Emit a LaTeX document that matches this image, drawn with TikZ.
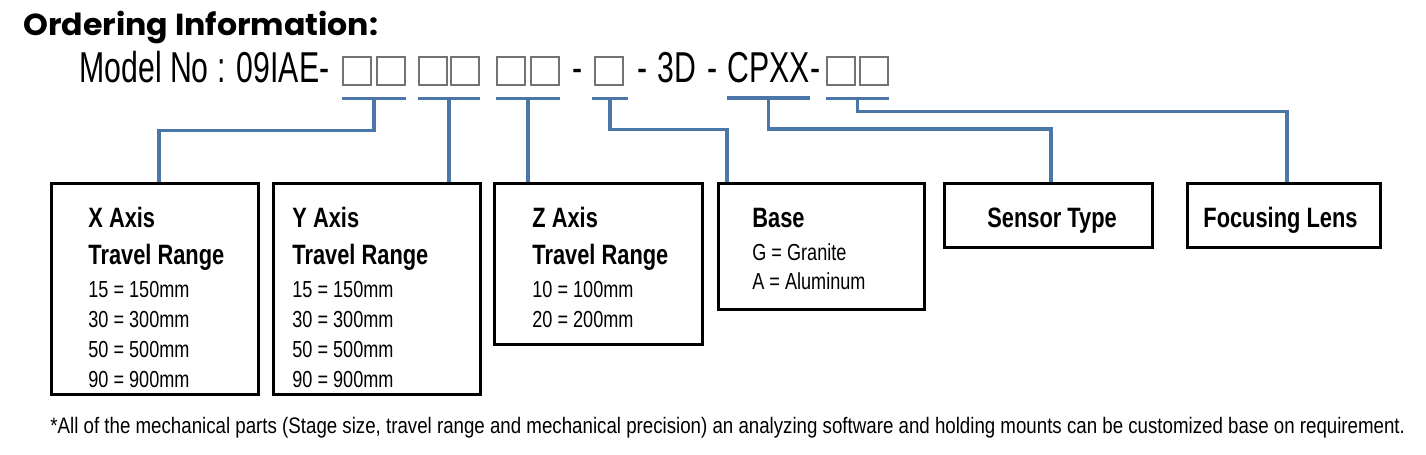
\documentclass[tikz,border=0pt]{standalone}
\usepackage{fontspec}
\usepackage{tikz}
\setmainfont{Liberation Sans}
\newfontfamily\titlefont[FakeStretch=1.04]{Poppins}
\newfontfamily\narrowfont[FakeStretch=0.78]{Liberation Sans}
\newfontfamily\modelfont[FakeStretch=0.7]{Liberation Sans}
\newfontfamily\notefont[FakeStretch=0.835]{Liberation Sans}
\definecolor{linkblue}{RGB}{74,118,168}

\begin{document}
\begin{tikzpicture}[x=0.5pt,y=-0.5pt,
    txt/.style={inner sep=0,anchor=base west},
    big/.style={txt,font=\modelfont\fontsize{21.6}{24}\selectfont},
    slot/.style={draw=black!55,line width=0.6pt,minimum size=14pt,inner sep=0},
    box/.style={draw,line width=1.35pt,inner sep=0,anchor=north west},
    link/.style={draw=linkblue,line width=1.6pt},
    head/.style={txt,font=\narrowfont\bfseries\fontsize{14}{16}\selectfont},
    item/.style={txt,font=\narrowfont\fontsize{11.6}{14}\selectfont}]
  \useasboundingbox (0,0) rectangle (1426,455);
  \node[txt,font=\titlefont\bfseries\fontsize{15.2}{18}\selectfont] (title) at (23,35) {Ordering Information:};
  % model number
  \node[big] (model) at (79,83) {Model No : 09IAE-};
  \node[big] (dash1) at (572,83) {-};
  \node[big] (dash2) at (637,83) {-};
  \node[big] (three) at (657,83) {3D};
  \node[big] (dash3) at (707,83) {-};
  \node[big] (cpxx) at (727,83) {CPXX};
  \node[big] (dash4) at (cpxx.base east) {-};
  \foreach \n/\x in {a/357,b/391,c/433,d/465,e/511,f/545,g/609,h/841,i/874}
    \node[slot] (s\n) at (\x,71) {};
  % underlines
  \draw[link] ([yshift=-6.5pt]sa.south west) -- coordinate (ua) ([yshift=-6.5pt]sb.south east);
  \draw[link] ([yshift=-6.5pt]sc.south west) -- coordinate (ub) ([yshift=-6.5pt]sd.south east);
  \draw[link] ([yshift=-6.5pt]se.south west) -- coordinate (uc) ([yshift=-6.5pt]sf.south east);
  \draw[link] ([xshift=-1pt,yshift=-6.5pt]sg.south west) -- coordinate (ud) ([xshift=2pt,yshift=-6.5pt]sg.south east);
  \draw[link] ([yshift=-7.5pt]cpxx.base west) -- coordinate (ue) ([yshift=-7.5pt]cpxx.base east);
  \draw[link] ([yshift=-6.5pt]sh.south west) -- coordinate (uf) ([yshift=-6.5pt]si.south east);
  % boxes
  \node[box,minimum width=103.5pt,minimum height=105.5pt] (xbox) at (50,182) {};
  \node[box,minimum width=103.5pt,minimum height=105.5pt] (ybox) at (272,182) {};
  \node[box,minimum width=104pt,minimum height=80.5pt] (zbox) at (493,182) {};
  \node[box,minimum width=103pt,minimum height=63pt] (basebox) at (717,182) {};
  \node[box,minimum width=104pt,minimum height=32pt] (sensor) at (943,182) {};
  \node[box,minimum width=96.5pt,minimum height=32pt] (lens) at (1186,182) {};
  % connectors
  \draw[link] (ua) -- ++(0,32) -| ([xshift=54.5pt]xbox.north west);
  \draw[link] (ub) -- (ub |- ybox.north);
  \draw[link] (uc) -- (uc |- zbox.north);
  \draw[link] (ud) -- ++(0,31) -| ([xshift=5pt]basebox.north west);
  \draw[link] (ue) -- ++(0,31) -| ([xshift=54pt]sensor.north west);
  \draw[link] (uf) -- ++(0,13) -| ([xshift=50.5pt]lens.north west);
  % box texts
  \node[head] (xhead) at (88,227) {X Axis};
  \node[head] (xrange) at (88,264) {Travel Range};
  \foreach \v [count=\i] in {15 = 150mm,30 = 300mm,50 = 500mm,90 = 900mm}
    \node[item] (xitem\i) at (88,267+30*\i) {\v};
  \node[head] (yhead) at (292,227) {Y Axis};
  \node[head] (yrange) at (292,264) {Travel Range};
  \foreach \v [count=\i] in {15 = 150mm,30 = 300mm,50 = 500mm,90 = 900mm}
    \node[item] (yitem\i) at (292,267+30*\i) {\v};
  \node[head] (zhead) at (532,227) {Z Axis};
  \node[head] (zrange) at (532,264) {Travel Range};
  \foreach \v [count=\i] in {10 = 100mm,20 = 200mm}
    \node[item] (zitem\i) at (532,267+30*\i) {\v};
  \node[head] (basehead) at (752,227) {Base};
  \foreach \v [count=\i] in {G = Granite,A = Aluminum}
    \node[item] (baseitem\i) at (752,231+29*\i) {\v};
  \node[head] (sensorhead) at (987,227) {Sensor Type};
  \node[head] (lenshead) at (1203,227) {Focusing Lens};
  % note
  \node[txt,font=\notefont\fontsize{11.2}{13}\selectfont] (note) at (50,433) {*All of the mechanical parts (Stage size, travel range and mechanical precision) an analyzing software and holding mounts can be customized base on requirement.};
\end{tikzpicture}
\end{document}
